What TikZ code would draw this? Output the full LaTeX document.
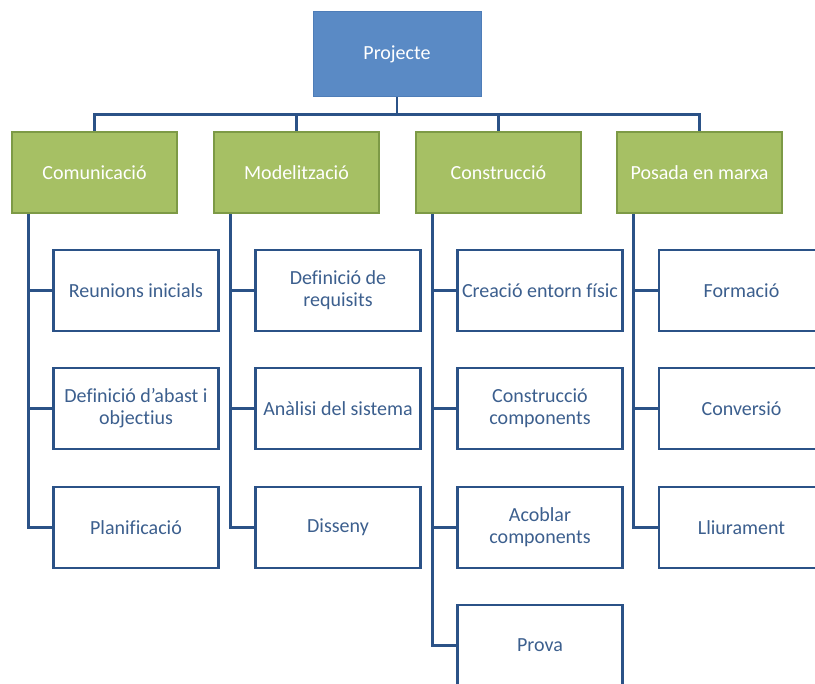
\documentclass[tikz,border=0pt]{standalone}
\usepackage{fontspec}
\setmainfont[Ligatures={TeX,NoCommon}]{Carlito}
\usepackage{xcolor}
\usetikzlibrary{positioning}
\definecolor{topblue}{HTML}{5A8AC5}
\definecolor{topedge}{HTML}{4E7DB8}
\definecolor{phasegreen}{HTML}{A6C064}
\definecolor{phaseedge}{HTML}{7D9A46}
\definecolor{linkblue}{HTML}{2B5287}
\definecolor{taskblue}{HTML}{3C5F8E}

\begin{document}
\begin{tikzpicture}[x=1pt, y=-1pt, font=\fontsize{20}{22}\selectfont,
		top/.style = {draw=topedge, fill=topblue, line width=1pt, text=white, minimum width=168pt, minimum height=85pt, inner sep=0pt},
		phase/.style = {draw=phaseedge, fill=phasegreen, line width=2.5pt, text=white, minimum width=165pt, minimum height=81pt, inner sep=0pt},
		task/.style = {draw=linkblue, fill=white, line width=2.5pt, text=taskblue, align=center, minimum width=165pt, minimum height=81pt, inner sep=0pt},
		link/.style = {draw=linkblue, line width=2.5pt}]
		\useasboundingbox (0,0) rectangle (815,684);
		\clip (0,0) rectangle (815,684);
		\node[top] (proj) at (397, 54.5) {Projecte};
		\node[phase] (com) at (94.5, 172.5) {Comunicació};
		\node[phase] (mod) at (296.5, 172.5) {Modelització};
		\node[phase] (con) at (498.5, 172.5) {Construcció};
		\node[phase] (pos) at (699.5, 172.5) {Posada en marxa};
		\node[task] (com1) at (136, 290.5) {Reunions inicials};
		\node[task] (com2) at (136, 408.5) {Definició d’abast i\\objectius};
		\node[task] (com3) at (136, 527.5) {Planificació};
		\node[task] (mod1) at (338, 290.5) {Definició de\\requisits};
		\node[task] (mod2) at (338, 408.5) {Anàlisi del sistema};
		\node[task] (mod3) at (338, 527.5) {Disseny};
		\node[task] (con1) at (540, 290.5) {Creació entorn físic};
		\node[task] (con2) at (540, 408.5) {Construcció\\components};
		\node[task] (con3) at (540, 527.5) {Acoblar\\components};
		\node[task] (con4) at (540, 645.5) {Prova};
		\node[task] (pos1) at (741.5, 290.5) {Formació};
		\node[task] (pos2) at (741.5, 408.5) {Conversió};
		\node[task] (pos3) at (741.5, 527.5) {Lliurament};
		\draw[link] (proj.south) -- ++(0,17) -| (com.north);
		\draw[link] (proj.south) -- ++(0,17) -| (mod.north);
		\draw[link] (proj.south) -- ++(0,17) -| (con.north);
		\draw[link] (proj.south) -- ++(0,17) -| (pos.north);
		\foreach \p/\t in {com/com1, com/com2, com/com3, mod/mod1, mod/mod2, mod/mod3, con/con1, con/con2, con/con3, con/con4, pos/pos1, pos/pos2, pos/pos3}
			\draw[link] ([xshift=17.5pt]\p.south west) |- (\t.west);
	\end{tikzpicture}
\end{document}
